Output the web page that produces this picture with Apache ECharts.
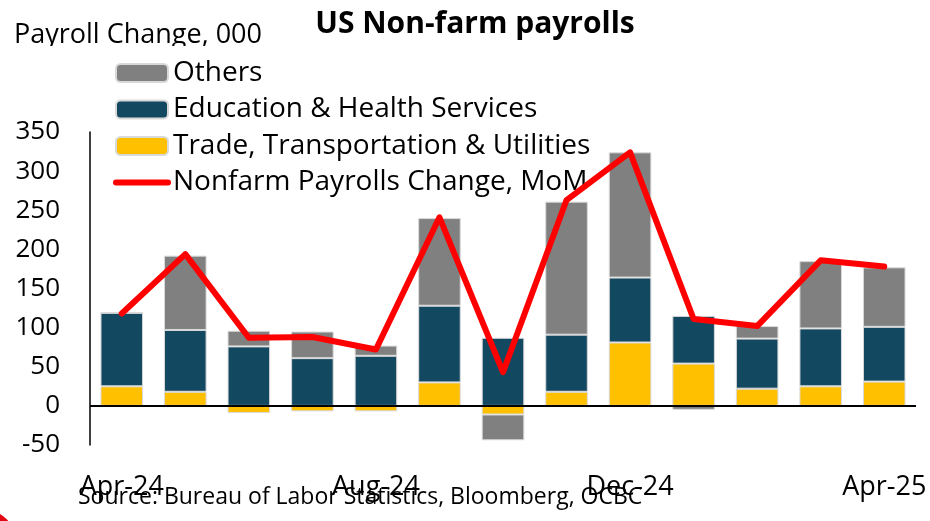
<!DOCTYPE html>
<html>
<head>
<meta charset="utf-8">
<title>US Non-farm payrolls</title>
<script src="https://cdn.jsdelivr.net/npm/echarts@6/dist/echarts.min.js"></script>
<style>
  html, body { margin: 0; padding: 0; background: #fff; }
  #main { width: 930px; height: 521px; }
</style>
</head>
<body>
<div id="main"></div>
<script>
// months, Apr-24 .. Apr-25
var months = ['Apr-24', 'May-24', 'Jun-24', 'Jul-24', 'Aug-24', 'Sep-24', 'Oct-24',
  'Nov-24', 'Dec-24', 'Jan-25', 'Feb-25', 'Mar-25', 'Apr-25'];

// payroll change, 000
var trade  = [25, 18, -9, -7, -7, 30, -11, 18, 81, 54, 22, 25, 31];
var eduHealth = [94, 79, 76, 61, 64, 98, 87, 73, 83, 61, 64, 74, 70];
var others = [0, 95, 20, 34, 13, 112, -33, 170, 160, -5, 16, 86, 76];
var nfp    = [118, 194, 87, 88, 72, 241, 43, 263, 324, 111, 102, 186, 178];

var yTicks = [-50, 0, 50, 100, 150, 200, 250, 300, 350];

var font = 'Open Sans';
var chart = echarts.init(document.getElementById('main'));

var barBorder = { borderColor: '#d9d9d9', borderWidth: 1 };

var option = {
  animation: false,
  title: {
    text: 'US Non-farm payrolls',
    left: 470,
    textAlign: 'center',
    top: 4,
    textStyle: { fontFamily: font, fontWeight: 'bold', fontSize: 30, color: '#000' }
  },
  legend: {
    orient: 'vertical',
    left: 113,
    top: 59,
    padding: 0,
    itemWidth: 52,
    itemHeight: 18,
    itemGap: 8.5,
    data: [
      { name: 'Others' },
      { name: 'Education & Health Services' },
      { name: 'Trade, Transportation & Utilities' },
      { name: 'Nonfarm Payrolls Change, MoM',
        itemStyle: { opacity: 0 },
        lineStyle: { width: 6, cap: 'round', color: '#FF0000' } }
    ],
    textStyle: { fontFamily: font, fontSize: 28, color: '#000', lineHeight: 26 }
  },
  grid: { left: 90, right: 14, top: 132, bottom: 76 },
  xAxis: {
    type: 'category',
    data: months,
    axisLine: { show: false },
    axisTick: { show: false },
    axisLabel: {
      interval: 3,
      margin: 29,
      fontFamily: font,
      fontSize: 27,
      color: '#000'
    }
  },
  yAxis: {
    type: 'value',
    min: yTicks[0],
    max: yTicks[yTicks.length - 1],
    interval: 50,
    splitLine: { show: false },
    axisTick: { show: false },
    axisLine: { show: true, lineStyle: { color: '#000', width: 1.5 } },
    axisLabel: { margin: 30, fontFamily: font, fontSize: 26, color: '#000' }
  },
  series: [
    {
      name: 'Trade, Transportation & Utilities',
      type: 'bar',
      stack: 'total',
      barWidth: '67%',
      itemStyle: Object.assign({ color: '#FFC000' }, barBorder),
      data: trade,
      markLine: {
        silent: true,
        symbol: 'none',
        label: { show: false },
        lineStyle: { color: '#000', width: 2, type: 'solid' },
        data: [{ yAxis: 0 }],
        z: 5
      }
    },
    {
      name: 'Education & Health Services',
      type: 'bar',
      stack: 'total',
      itemStyle: Object.assign({ color: '#134861' }, barBorder),
      data: eduHealth
    },
    {
      name: 'Others',
      type: 'bar',
      stack: 'total',
      itemStyle: Object.assign({ color: '#808080' }, barBorder),
      data: others
    },
    {
      name: 'Nonfarm Payrolls Change, MoM',
      type: 'line',
      symbol: 'none',
      z: 10,
      itemStyle: { color: '#FF0000' },
      lineStyle: { color: '#FF0000', width: 6, cap: 'round', join: 'round' },
      data: nfp
    }
  ],
  graphic: [
    {
      type: 'text',
      left: 14,
      top: 22,
      style: { text: 'Payroll Change, 000', font: '27px "Open Sans"', fill: '#000' }
    },
    {
      // the label is cut off at its bottom in the source image
      type: 'rect',
      shape: { x: 0, y: 46, width: 300, height: 12 },
      style: { fill: '#fff' },
      z: 50
    },
    {
      type: 'text',
      left: 78,
      top: 486,
      z: 60,
      style: { text: 'Source: Bureau of Labor Statistics, Bloomberg, OCBC', font: '23px "Open Sans"', fill: '#000' }
    },
    {
      type: 'circle',
      shape: { cx: -15, cy: 540, r: 30 },
      style: { fill: '#E30613' }
    }
  ]
};

chart.setOption(option);
</script>
</body>
</html>
